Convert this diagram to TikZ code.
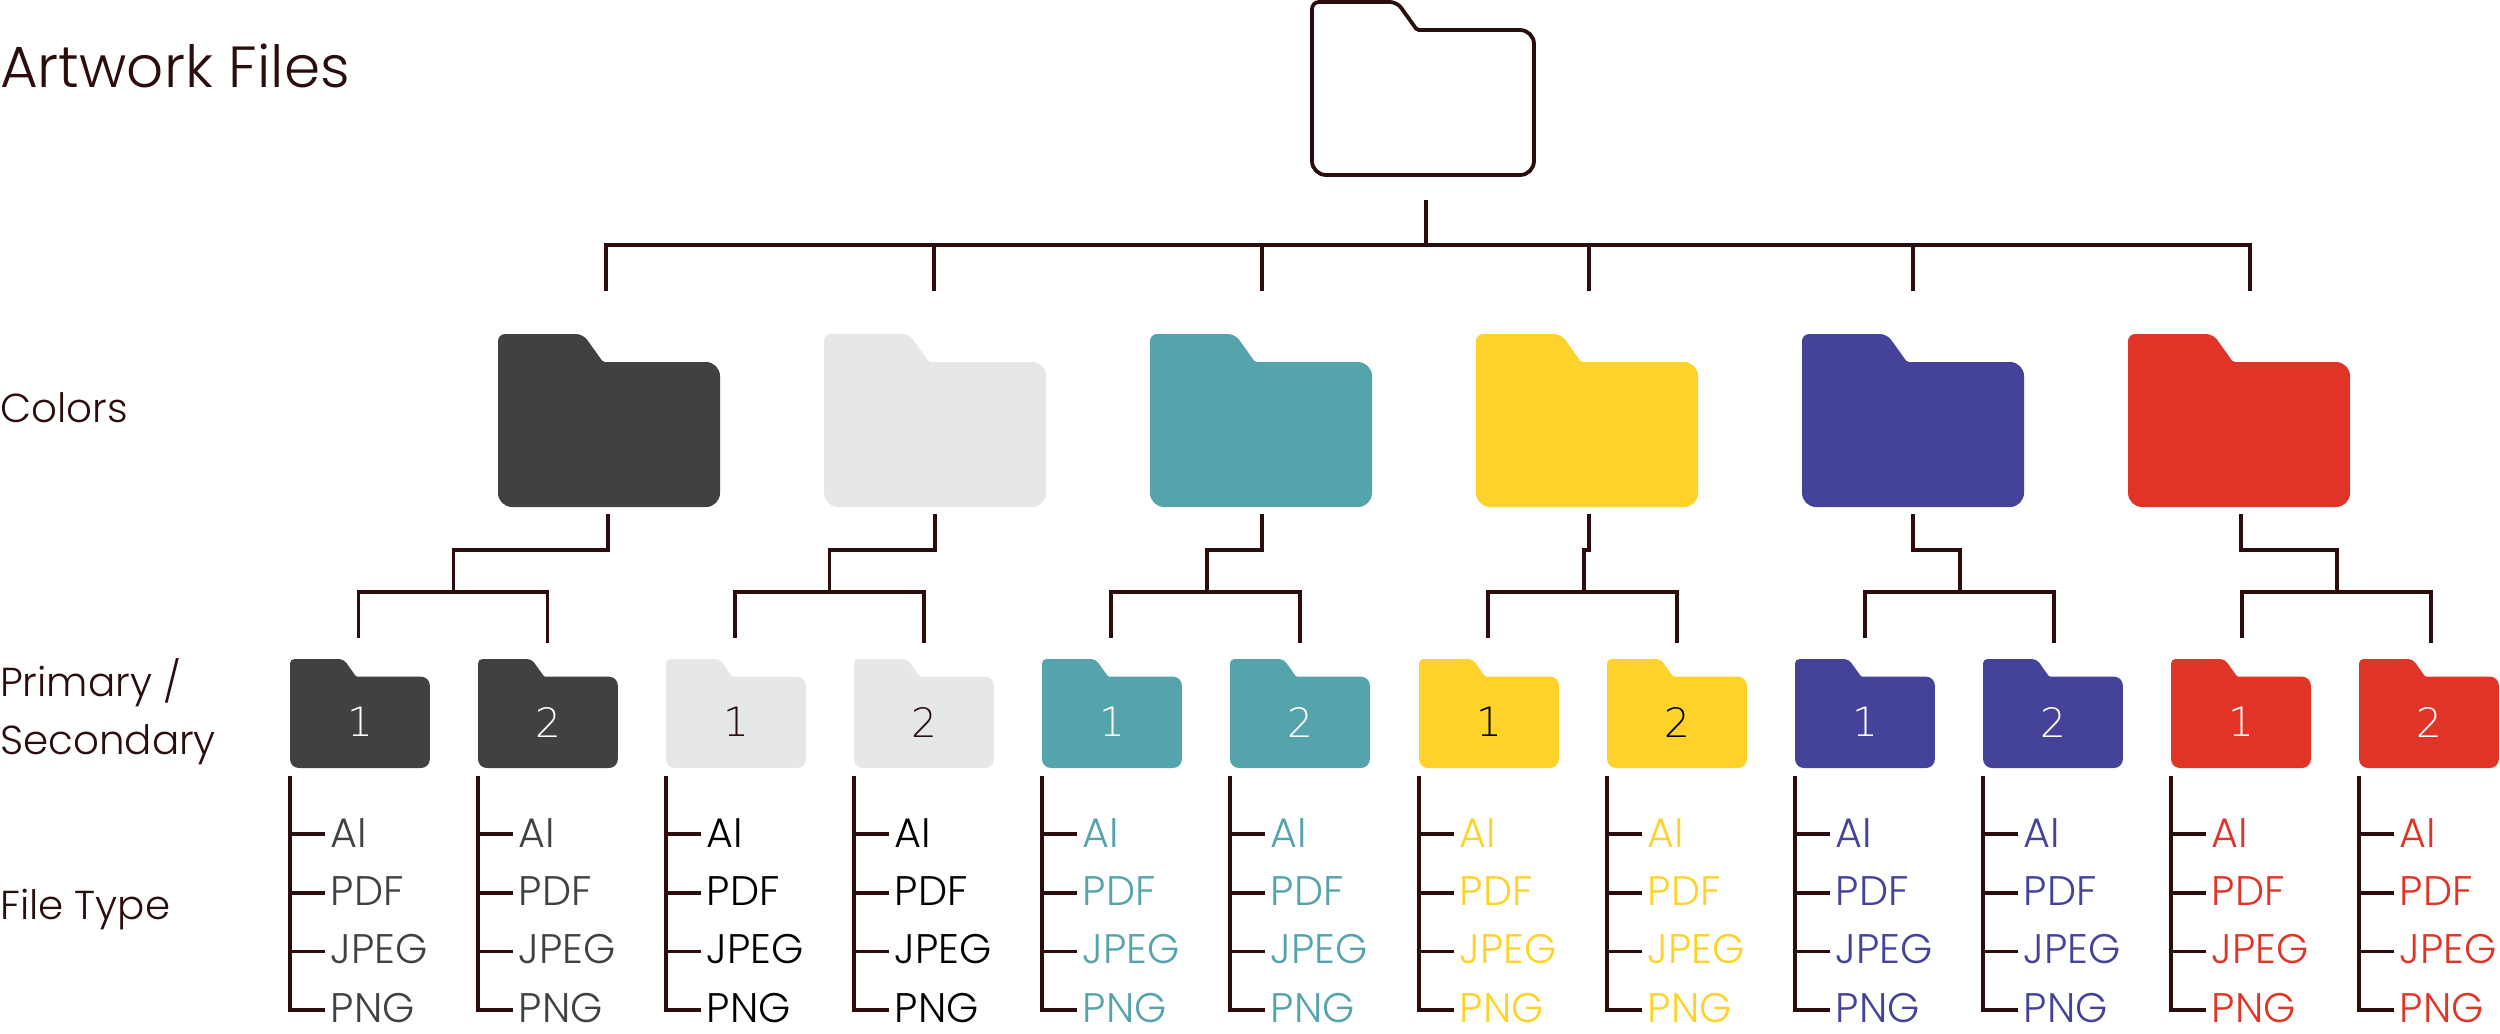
\documentclass[tikz,border=0pt]{standalone}
\usepackage{fontspec}
\setmainfont{Poppins Light}
\newfontfamily\digitfont{DejaVu Sans ExtraLight}
\usetikzlibrary{positioning}
\definecolor{inkbrown}{HTML}{2B0D0D}
\definecolor{coalgrey}{HTML}{414042}
\definecolor{palegrey}{HTML}{E6E7E8}
\definecolor{tealcol}{HTML}{55A4AB}
\definecolor{goldcol}{HTML}{FFD229}
\definecolor{bluecol}{HTML}{444299}
\definecolor{redcol}{HTML}{E03526}
\tikzset{
	wire/.style={draw=inkbrown,line width=4.3pt},
	headlabel/.style={anchor=base west,inner sep=0pt,text=inkbrown,font=\fontsize{46pt}{46pt}\selectfont},
	titlelabel/.style={anchor=base west,inner sep=0pt,text=inkbrown,font=\fontsize{66pt}{66pt}\selectfont},
	filelabel/.style={anchor=base west,inner ysep=0pt,inner xsep=6.5pt,font=\fontsize{47pt}{47pt}\selectfont},
	digitlabel/.style={inner sep=0pt,font=\digitfont\fontsize{46pt}{46pt}\selectfont},
}
% #1 name, #2 x, #3 y, #4 scale, #5 path options
\newcommand{\folder}[5]{
	\path[#5,shift={(#2,#3)},rounded corners=#4*8pt] (0,80*#4) -- (0,0) -- (85*#4,0)
		[rounded corners=#4*2pt] -- (105*#4,28*#4)
		[rounded corners=#4*16pt] -- (222*#4,28*#4) -- (222*#4,173*#4) -- (0,173*#4) -- cycle;
	\node[inner sep=0pt,minimum width=222*#4*1.138pt,minimum height=173*#4*1.138pt,anchor=north west] (#1) at (#2,#3) {};
}
% #1 name, #2 x, #3 fill, #4 digit, #5 digit colour, #6 text colour
\newcommand{\branch}[6]{
	\folder{#1}{#2}{659}{0.63}{fill=#3}
	\node[digitlabel,text=#5] (#1d) at (#2+70,722) {#4};
	\coordinate (#1t0) at (#2,776);
	\coordinate (#1t1) at (#2,834);
	\coordinate (#1t2) at (#2,893);
	\coordinate (#1t3) at (#2,951.5);
	\coordinate (#1t4) at (#2,1010);
	\node[filelabel,text=#6] (#1a) at (#2+35,847) {AI};
	\node[filelabel,text=#6] (#1b) at (#2+35,905) {PDF};
	\node[filelabel,text=#6] (#1c) at (#2+35,963.5) {JPEG};
	\node[filelabel,text=#6] (#1e) at (#2+35,1022) {PNG};
	\draw[wire] (#1t0) -- (#1t4) -- (#1e.west |- #1t4);
	\draw[wire] (#1t1) -- (#1a.west |- #1t1);
	\draw[wire] (#1t2) -- (#1b.west |- #1t2);
	\draw[wire] (#1t3) -- (#1c.west |- #1t3);
}
% #1 name, #2 top x, #3 middle x, #4 left x
\newcommand{\fork}[4]{
	\coordinate (#1s) at (#2,514);
	\coordinate (#1j) at (#2,550);
	\coordinate (#1m) at (#3,550);
	\coordinate (#1n) at (#3,592);
	\coordinate (#1l) at (#4,592);
	\coordinate (#1r) at (#4+189,592);
	\coordinate (#1p) at (#4,638);
	\coordinate (#1q) at (#4+189,643);
	\draw[wire] (#1s) -- (#1j) -- (#1m) -- (#1n);
	\draw[wire] (#1p) -- (#1l) -- (#1r) -- (#1q);
}
\begin{document}
\begin{tikzpicture}[x=0.04cm,y=-0.04cm]
	\useasboundingbox (0,0) rectangle (2500,1033);
	% Labels
	\node[titlelabel] (title) at (0,87) {Artwork Files};
	\node[headlabel] (colors) at (0,422) {Colors};
	\node[headlabel] (primary) at (0,696) {Primary /};
	\node[headlabel] (secondary) at (0,754) {Secondary};
	\node[headlabel] (filetype) at (0,919) {File Type};
	% Top folder
	\folder{root}{1312}{2}{1}{draw=inkbrown,line width=4.3pt,fill=white}
	\coordinate (rootstem) at (1426,200);
	\coordinate (rootbus) at (1426,245);
	\coordinate (busa) at (606,245);
	\coordinate (busb) at (2250,245);
	\coordinate (dropa) at (606,291);
	\coordinate (dropb) at (934,291);
	\coordinate (dropc) at (1262,291);
	\coordinate (dropd) at (1589,291);
	\coordinate (drope) at (1913,291);
	\coordinate (dropf) at (2250,291);
	\draw[wire] (rootstem) -- (rootbus);
	\draw[wire] (dropa) -- (busa) -- (busb) -- (dropf);
	\draw[wire] (dropb) -- (dropb |- busa);
	\draw[wire] (dropc) -- (dropc |- busa);
	\draw[wire] (dropd) -- (dropd |- busa);
	\draw[wire] (drope) -- (drope |- busa);
	% Colors
	\folder{coal}{498}{334}{1}{fill=coalgrey}
	\folder{pale}{824}{334}{1}{fill=palegrey}
	\folder{teal}{1150}{334}{1}{fill=tealcol}
	\folder{gold}{1476}{334}{1}{fill=goldcol}
	\folder{blue}{1802}{334}{1}{fill=bluecol}
	\folder{red}{2128}{334}{1}{fill=redcol}
	% Forks
	\fork{fa}{608}{453.5}{358.5}
	\fork{fb}{935}{829.5}{735}
	\fork{fc}{1262}{1207}{1111}
	\fork{fd}{1589}{1584}{1488}
	\fork{fe}{1913}{1960}{1865}
	\fork{ff}{2241}{2337}{2242}
	% Primary / Secondary
	\branch{ca}{290}{coalgrey}{1}{white}{coalgrey}
	\branch{cb}{478}{coalgrey}{2}{white}{coalgrey}
	\branch{pa}{666}{palegrey}{1}{inkbrown}{black}
	\branch{pb}{854}{palegrey}{2}{inkbrown}{black}
	\branch{ta}{1042}{tealcol}{1}{white}{tealcol}
	\branch{tb}{1230}{tealcol}{2}{white}{tealcol}
	\branch{ga}{1419}{goldcol}{1}{black}{goldcol}
	\branch{gb}{1607}{goldcol}{2}{black}{goldcol}
	\branch{ba}{1795}{bluecol}{1}{white}{bluecol}
	\branch{bb}{1983}{bluecol}{2}{white}{bluecol}
	\branch{ra}{2171}{redcol}{1}{white}{redcol}
	\branch{rb}{2359}{redcol}{2}{white}{redcol}
\end{tikzpicture}
\end{document}
